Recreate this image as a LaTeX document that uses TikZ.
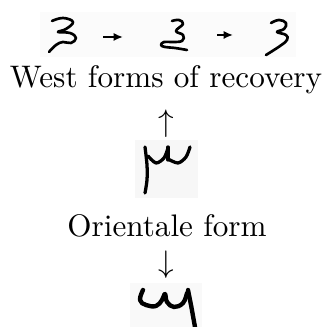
\documentclass[tikz,border=0pt]{standalone}
\usetikzlibrary{arrows.meta}
\tikzset{
  glyph/.style={line width=0.85pt,line cap=round,line join=round},
  scanbox/.style={draw=none},
  smallarr/.style={-{Latex[length=3pt,width=2.6pt]},line width=0.8pt},
  caption/.style={inner sep=0pt,anchor=base}
}
\begin{document}
\begin{tikzpicture}[x=0.321pt,y=-0.321pt]
\useasboundingbox (0,0) rectangle (327,327);
% ---------- scanned backgrounds ----------
\fill[scanbox,gray!3] (40,12) rectangle (296,57);
\fill[scanbox,gray!6] (135,140) rectangle (198,198);
\fill[scanbox,gray!5] (130,283) rectangle (202,327);
% ---------- western forms ----------
\draw[glyph] plot[smooth,tension=0.7] coordinates {(52,21) (63,18) (73,22) (66,29) (58,32) (70,33) (76,38) (71,43) (63,42) (56,45) (49,52)};
\coordinate (a1s) at (103,37);
\coordinate (a1e) at (123,37);
\draw[glyph] plot[smooth,tension=0.7] coordinates {(172,21) (179,20) (183,24) (176,31) (183,35) (182,41) (171,42) (164,42) (161,45) (165,47) (175,48) (187,50)};
\coordinate (a2s) at (217,35);
\coordinate (a2e) at (233,35);
\draw[glyph] plot[smooth,tension=0.7] coordinates {(271,23) (279,20) (286,23) (284,29) (277,32) (286,35) (287,40) (280,46) (266,55)};
\draw[smallarr] (a1s) -- (a1e);
\draw[smallarr] (a2s) -- (a2e);
\node[caption] (west) at (166,88) {West forms of recovery};
\node (up) at (166,124) {$\uparrow$};
% ---------- oriental form ----------
\draw[glyph,line width=1.05pt] plot[smooth] coordinates {(145,147) (147,165) (147,180) (145,193)};
\draw[glyph,line width=1.05pt] plot[smooth] coordinates {(148,156) (156,163) (164,158) (168,148)};
\draw[glyph,line width=1.05pt] (168,147) -- (168,160);
\draw[glyph,line width=1.05pt] plot[smooth] coordinates {(168,159) (178,163) (186,157) (190,147)};
\node[caption] (orient) at (167,237) {Orientale form};
\node (down) at (166,265) {$\downarrow$};
% ---------- lower form ----------
\draw[glyph,line width=1.4pt] plot[smooth,tension=0.7] coordinates {(143,290) (140,300) (146,305) (156,306) (162,300) (165,294) (167,302) (174,307) (183,303) (187,293)};
\draw[glyph,line width=1.4pt] plot[smooth] coordinates {(188,290) (191,305) (193,316) (195,327)};
\end{tikzpicture}
\end{document}
